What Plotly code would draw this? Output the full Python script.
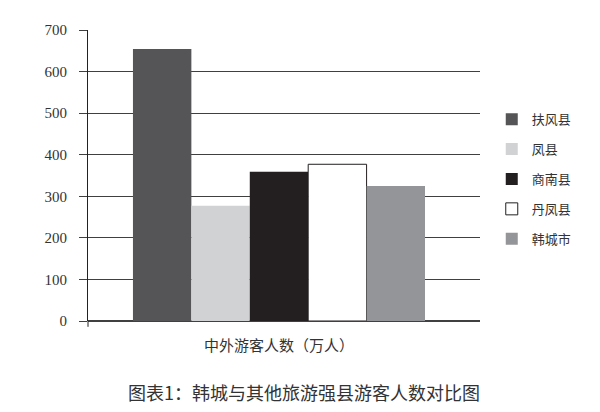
import plotly.graph_objects as go

category = ['中外游客人数（万人）']
counties = ['扶风县', '凤县', '商南县', '丹凤县', '韩城市']
visitors = [654, 277, 359, 377, 325]
colors = ['#555557', '#d1d2d4', '#231f20', '#ffffff', '#939598']
outline = ['#555557', '#d1d2d4', '#231f20', '#231f20', '#939598']

cjk = 'Noto Sans CJK SC'
serif = 'Liberation Serif, Times New Roman, serif'

fig = go.Figure()
for name, val, col, lc in zip(counties, visitors, colors, outline):
    fig.add_trace(go.Bar(x=category, y=[val], name=name, legendgroup=name,
                         marker=dict(color=col, line=dict(color=lc, width=1 if col == '#ffffff' else 0))))

# page body adds ~8px offset, so margins are trimmed to land the plot area where the reference has it
fig.update_layout(
    width=600, height=412,
    margin=dict(l=80, r=128, t=22, b=99),
    plot_bgcolor='white', paper_bgcolor='white',
    barmode='group', bargap=0.255, bargroupgap=0,
    showlegend=True,
    legend=dict(x=1.03, y=0.745, xanchor='left', yanchor='top',
                font=dict(family=cjk, size=13, color='#333333'),
                traceorder='grouped', tracegroupgap=10, itemwidth=30),
    annotations=[dict(text='图表1：韩城与其他旅游强县游客人数对比图', xref='paper', yref='paper',
                      x=0.55, y=-0.245, xanchor='center', yanchor='middle', showarrow=False,
                      font=dict(family=cjk, size=18, color='#333333'))],
    shapes=[dict(type='line', xref='paper', yref='paper', x0=0, x1=0, y0=0, y1=-0.02,
                 line=dict(color='#222222', width=1))],
)
fig.update_xaxes(range=[-0.4872, 0.5128], showline=False, ticks='', showgrid=False,
                 tickfont=dict(family=cjk, size=15, color='#333333'), ticklabelstandoff=14)
fig.update_yaxes(range=[0, 700], dtick=100, showgrid=True, gridcolor='#404040', gridwidth=1,
                 showline=True, linecolor='#222222', linewidth=1, zeroline=True, zerolinecolor='#404040',
                 ticks='outside', ticklen=8, tickcolor='#404040', ticklabelstandoff=9,
                 tickfont=dict(family=serif, size=15, color='#333333'))

fig.write_html('out.html')
